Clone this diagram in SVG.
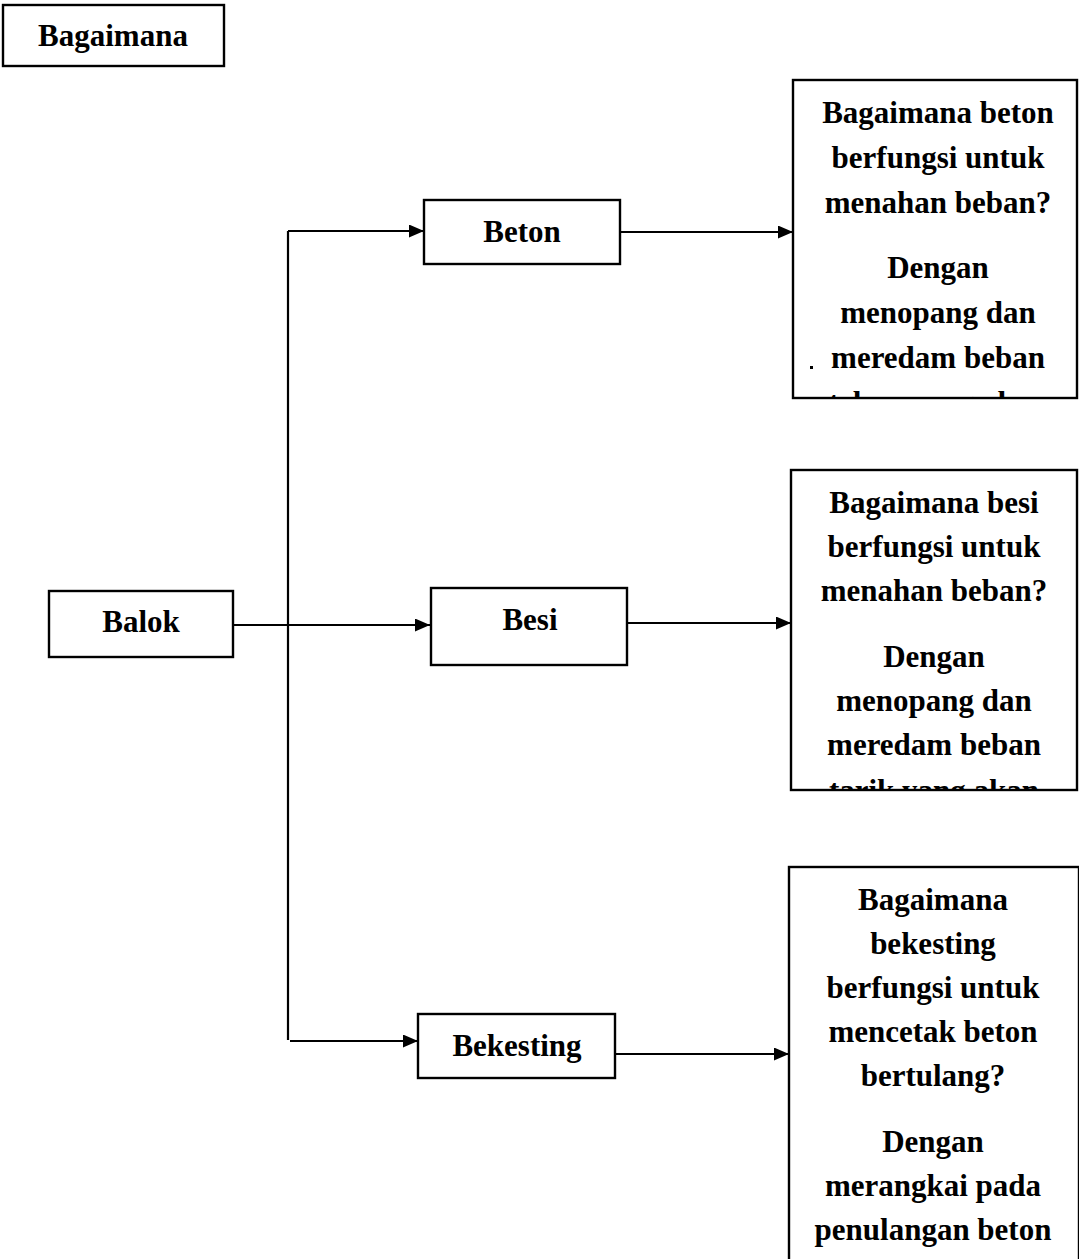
<svg xmlns="http://www.w3.org/2000/svg" width="1079" height="1259" viewBox="0 0 1079 1259">
  <style>
    .box { fill: #ffffff; stroke: #000000; stroke-width: 2.4; }
    .lbl { font-family: "Liberation Serif", "Times New Roman", serif; font-weight: bold; font-size: 31px; fill: #000000; text-anchor: middle; }
    .wire { fill: none; stroke: #000000; stroke-width: 2.2; }
  </style>
  <defs>
    <marker id="arrow" viewBox="0 0 15 13" refX="15" refY="6.5" markerWidth="15" markerHeight="13" markerUnits="userSpaceOnUse" orient="auto">
      <path d="M0,0 L15,6.5 L0,13 Z" fill="#000000"/>
    </marker>
    <clipPath id="clip-q1"><rect x="793" y="80" width="285" height="318"/></clipPath>
    <clipPath id="clip-q2"><rect x="791" y="470" width="286" height="320"/></clipPath>
    <clipPath id="clip-q3"><rect x="789" y="867" width="290" height="392"/></clipPath>
  </defs>

  <rect width="1079" height="1259" fill="#ffffff"/>

  <!-- connectors -->
  <g id="connectors">
    <path class="wire" d="M288,231 V1040"/>
    <path class="wire" d="M288,231 H424" marker-end="url(#arrow)"/>
    <path class="wire" d="M290,1041 H418" marker-end="url(#arrow)"/>
    <path class="wire" d="M233,625 H430" marker-end="url(#arrow)"/>
    <path class="wire" d="M620,232 H793" marker-end="url(#arrow)"/>
    <path class="wire" d="M618,623 H791" marker-end="url(#arrow)"/>
    <path class="wire" d="M615,1054 H789" marker-end="url(#arrow)"/>
  </g>

  <g id="title">
    <rect class="box" x="3" y="5" width="221" height="61"/>
    <text class="lbl" x="113" y="46">Bagaimana</text>
  </g>

  <g id="balok">
    <rect class="box" x="49" y="591" width="184" height="66"/>
    <text class="lbl" x="141" y="632">Balok</text>
  </g>

  <g id="beton">
    <rect class="box" x="424" y="200" width="196" height="64"/>
    <text class="lbl" x="522" y="242">Beton</text>
  </g>

  <g id="besi">
    <rect class="box" x="431" y="588" width="196" height="77"/>
    <text class="lbl" x="530" y="630">Besi</text>
  </g>

  <g id="bekesting">
    <rect class="box" x="418" y="1014" width="197" height="64"/>
    <text class="lbl" x="517" y="1056">Bekesting</text>
  </g>

  <g id="q-beton">
    <rect class="box" x="793" y="80" width="284" height="318"/>
    <g clip-path="url(#clip-q1)">
      <text class="lbl" x="938" y="123">Bagaimana beton</text>
      <text class="lbl" x="938" y="168">berfungsi untuk</text>
      <text class="lbl" x="938" y="213">menahan beban?</text>
      <text class="lbl" x="938" y="278">Dengan</text>
      <text class="lbl" x="938" y="323">menopang dan</text>
      <text class="lbl" x="938" y="368">meredam beban</text>
      <text class="lbl" x="938" y="413">tekan yang akan</text>
    </g>
    <rect x="810" y="366" width="3" height="3" fill="#000"/>
  </g>

  <g id="q-besi">
    <rect class="box" x="791" y="470" width="286" height="320"/>
    <g clip-path="url(#clip-q2)">
      <text class="lbl" x="934" y="513">Bagaimana besi</text>
      <text class="lbl" x="934" y="557">berfungsi untuk</text>
      <text class="lbl" x="934" y="601">menahan beban?</text>
      <text class="lbl" x="934" y="667">Dengan</text>
      <text class="lbl" x="934" y="711">menopang dan</text>
      <text class="lbl" x="934" y="755">meredam beban</text>
      <text class="lbl" x="934" y="801">tarik yang akan</text>
    </g>
  </g>

  <g id="q-bekesting">
    <rect class="box" x="789" y="867" width="290" height="400"/>
    <g clip-path="url(#clip-q3)">
      <text class="lbl" x="933" y="910">Bagaimana</text>
      <text class="lbl" x="933" y="954">bekesting</text>
      <text class="lbl" x="933" y="998">berfungsi untuk</text>
      <text class="lbl" x="933" y="1042">mencetak beton</text>
      <text class="lbl" x="933" y="1086">bertulang?</text>
      <text class="lbl" x="933" y="1152">Dengan</text>
      <text class="lbl" x="933" y="1196">merangkai pada</text>
      <text class="lbl" x="933" y="1240">penulangan beton</text>
    </g>
  </g>
</svg>
